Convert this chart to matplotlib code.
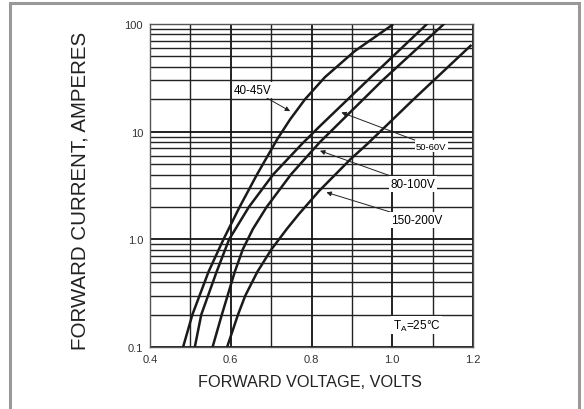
import matplotlib
matplotlib.use("Agg")
import matplotlib.pyplot as plt
from matplotlib.patches import Rectangle
from matplotlib.ticker import FixedLocator, LogLocator, NullFormatter

plt.rcParams['font.family'] = ['Liberation Sans', 'DejaVu Sans']

# forward characteristics (volts, amperes)
v_40_45 = [0.482, 0.505, 0.545, 0.570, 0.582, 0.622, 0.665, 0.715, 0.747, 0.784, 0.833, 0.907, 1.000]
i_40_45 = [0.1, 0.2, 0.5, 0.8, 1.0, 2.0, 4.0, 8.5, 13, 20, 32, 56, 98]

v_50_60 = [0.511, 0.527, 0.565, 0.586, 0.596, 0.645, 0.705, 0.776, 0.818, 0.939, 1.086]
i_50_60 = [0.1, 0.2, 0.5, 0.8, 1.0, 2.0, 4.0, 7.67, 11, 30, 100]

v_80_100 = [0.555, 0.578, 0.610, 0.630, 0.655, 0.689, 0.749, 0.820, 0.976, 1.128]
i_80_100 = [0.1, 0.2, 0.5, 0.81, 1.25, 2.0, 4.0, 7.94, 30, 100]

v_150_200 = [0.591, 0.618, 0.636, 0.666, 0.701, 0.739, 0.769, 0.819, 0.897, 0.938, 1.053, 1.194]
i_150_200 = [0.1, 0.2, 0.3, 0.5, 0.81, 1.25, 1.72, 2.82, 5.57, 7.67, 20, 62.8]

x_ticks = [0.4, 0.6, 0.8, 1.0, 1.2]
x_tick_labels = ["0.4", "0.6", "0.8", "1.0", "1.2"]
y_ticks = [0.1, 1.0, 10, 100]
y_tick_labels = ["0.1", "1.0", "10", "100"]

fig = plt.figure(figsize=(5.84, 4.10), dpi=100)
fig.patches.append(Rectangle((10 / 584, -0.05), 569 / 584, 1.05 - 4 / 410, transform=fig.transFigure,
                             fill=False, edgecolor='#999999', linewidth=2.2))

ax = fig.add_axes([150 / 584, 1 - 348 / 410, 323 / 584, 323 / 410])
ax.set_yscale('log')
ax.set_xlim(0.4, 1.2)
ax.set_ylim(0.1, 100)

ax.xaxis.set_minor_locator(FixedLocator([0.5, 0.7, 0.9, 1.1]))
ax.set_xticks(x_ticks, x_tick_labels)
ax.set_yticks(y_ticks, y_tick_labels)
ax.yaxis.set_minor_locator(LogLocator(base=10, subs=range(2, 10)))
ax.yaxis.set_minor_formatter(NullFormatter())
ax.tick_params(which='both', length=0, labelsize=8, labelcolor='#333333', pad=5)

ax.grid(True, which='major', color='#111111', linewidth=1.3)
ax.grid(True, which='minor', color='#222222', linewidth=1.0)
for s in ax.spines.values():
    s.set_color('#555555')
    s.set_linewidth(1.0)

for vv, ii in [(v_40_45, i_40_45), (v_50_60, i_50_60), (v_80_100, i_80_100), (v_150_200, i_150_200)]:
    ax.plot(vv, ii, color='#1a1a1a', linewidth=1.8, solid_joinstyle='round', zorder=3)

box = dict(boxstyle='square,pad=0.15', facecolor='white', edgecolor='none')
arr = dict(arrowstyle='-|>', color='#222222', linewidth=0.7, mutation_scale=7, shrinkA=0, shrinkB=0)
ax.annotate("40-45V", xy=(0.747, 15.5), xytext=(0.655, 24.3), fontsize=8.4, ha='center', va='center',
            bbox=box, arrowprops=arr, zorder=4)
ax.annotate("50-60V", xy=(0.874, 15.1), xytext=(1.097, 7.3), fontsize=6.8, ha='center', va='center',
            bbox=box, arrowprops=arr, zorder=4)
ax.annotate("80-100V", xy=(0.821, 6.65), xytext=(1.052, 3.26), fontsize=8.5, ha='center', va='center',
            bbox=box, arrowprops=arr, zorder=4)
ax.annotate("150-200V", xy=(0.837, 2.73), xytext=(1.06, 1.51), fontsize=8.5, ha='center', va='center',
            bbox=box, arrowprops=arr, zorder=4)
ax.text(1.06, 0.16, "T$_\\mathregular{A}$=25°C", fontsize=8.5, ha='center', va='center', bbox=box, zorder=4)

fig.text(310 / 584, 1 - 383 / 410, "FORWARD VOLTAGE, VOLTS", fontsize=11.7, ha='center', va='center',
         color='#222222')
fig.text(80 / 584, 1 - 191 / 410, "FORWARD CURRENT, AMPERES", fontsize=14.8, rotation=90, ha='center',
         va='center', color='#222222')

fig.savefig("out.png", dpi=100)
